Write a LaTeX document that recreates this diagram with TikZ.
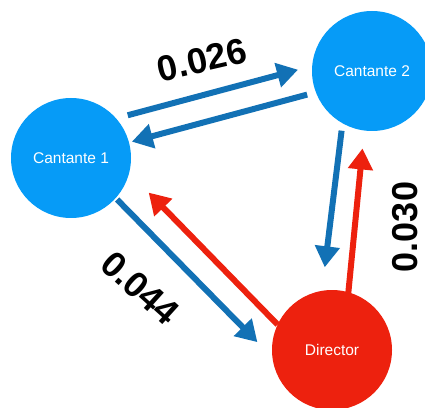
\documentclass[tikz,border=0pt]{standalone}
\usepackage{fontspec}
\setmainfont{Liberation Sans}
\usetikzlibrary{arrows.meta,calc}

\definecolor{singerblue}{RGB}{6,155,247}
\definecolor{arrowblue}{RGB}{18,113,181}
\definecolor{directorred}{RGB}{237,33,14}

\begin{document}
\begin{tikzpicture}[
    x=1pt, y=1pt,
    font=\fontsize{15.5}{15.5}\selectfont,
    singer/.style={
		circle,
		fill=singerblue,
		text=white,
		inner sep=0pt,
		minimum size=120pt
	},
	director/.style={
		circle,
		fill=directorred,
		text=white,
		inner sep=0pt,
		minimum size=120pt
	},
	link/.style={
		line width=6pt,
		-{Triangle[length=21pt,width=24pt]}
	},
	bluelink/.style={link, draw=arrowblue},
	redlink/.style={link, draw=directorred},
	weight/.style={
		font=\fontsize{36}{36}\selectfont\bfseries
	}
  ]

 \useasboundingbox (0,0) rectangle (425,407);

% // The nodes
 \node [singer] (cant1) at (71,249) {Cantante 1};
 \node [singer] (cant2) at (372,336) {Cantante 2};
 \node [director] (dir) at (332,57) {Director};

% // Cantante 1 <-> Cantante 2
 \draw [bluelink] ($(cant1)+(37:71pt)$) -- ($(cant2)+(179:74pt)$);
 \draw [bluelink] ($(cant2)+(200:69pt)$) -- ($(cant1)+(15:63pt)$);

% // Cantante 2 <-> Director
 \draw [bluelink] ($(cant2)+(243:67pt)$) -- ($(dir)+(95:83pt)$);
 \draw [redlink] ($(dir)+(74:59pt)$) -- ($(cant2)+(263:78pt)$);

% // Cantante 1 <-> Director
 \draw [bluelink] ($(cant1)+(-42:62pt)$) -- ($(dir)+(174:75pt)$);
 \draw [redlink] ($(dir)+(155:60pt)$) -- ($(cant1)+(-24:85pt)$);

% // The weights
 \node [weight, rotate=13] (w12) at (202,347) {0.026};
 \node [weight, rotate=90] (w2d) at (405,180) {0.030};
 \node [weight, rotate=-42] (w1d) at (140,119) {0.044};

\end{tikzpicture}
\end{document}
